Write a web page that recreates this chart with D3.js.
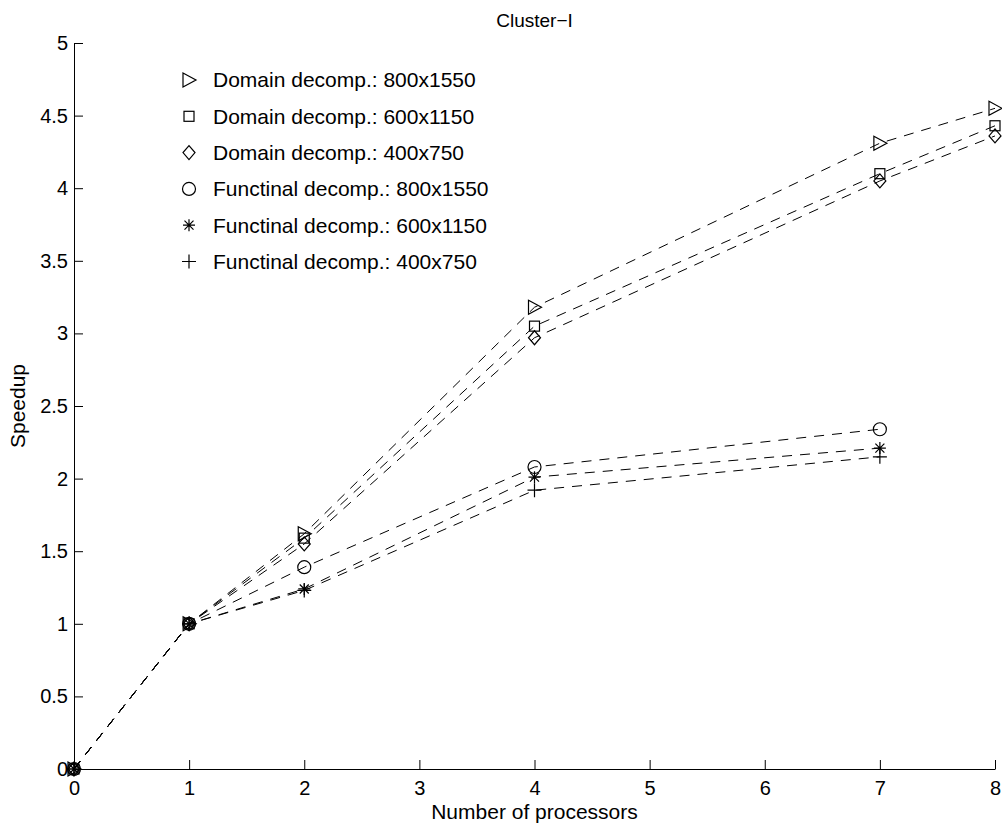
<!DOCTYPE html>
<html>
<head>
<meta charset="utf-8">
<script src="https://cdn.jsdelivr.net/npm/d3@7"></script>
<style>
  body { margin: 0; background: #fff; }
  text { font-family: "Liberation Sans", Arial, sans-serif; fill: #000; }
</style>
</head>
<body>
<script>
// data
var domainProcs = [0, 1, 2, 4, 7, 8];
var funcProcs = [0, 1, 2, 4, 7];
var dom800 = [0, 1, 1.62, 3.18, 4.31, 4.55];
var dom600 = [0, 1, 1.59, 3.05, 4.10, 4.43];
var dom400 = [0, 1, 1.55, 2.97, 4.05, 4.36];
var fun800 = [0, 1, 1.39, 2.08, 2.34];
var fun600 = [0, 1, 1.24, 2.01, 2.21];
var fun400 = [0, 1, 1.23, 1.92, 2.15];
var seriesNames = ["Domain decomp.: 800x1550", "Domain decomp.: 600x1150", "Domain decomp.: 400x750",
                   "Functinal decomp.: 800x1550", "Functinal decomp.: 600x1150", "Functinal decomp.: 400x750"];
var markers = ["triangle", "square", "diamond", "circle", "star", "plus"];
var xTicks = [0, 1, 2, 3, 4, 5, 6, 7, 8];
var yTicks = [0, 0.5, 1, 1.5, 2, 2.5, 3, 3.5, 4, 4.5, 5];

var width = 1002;
var height = 823;
// plot box (don't call it "top", window.top is read only)
var padL = 74, padR = 995, padT = 43, padB = 769;

var series = [
  {x: domainProcs, y: dom800}, {x: domainProcs, y: dom600}, {x: domainProcs, y: dom400},
  {x: funcProcs, y: fun800}, {x: funcProcs, y: fun600}, {x: funcProcs, y: fun400}
];

var svg = d3.select("body").append("svg")
    .attr("width", width)
    .attr("height", height);

var x = d3.scaleLinear().domain([0, 8]).range([padL, padR]);
var y = d3.scaleLinear().domain([0, 5]).range([padB, padT]);

// axes, ticks pointing inward like matlab
var xAxis = svg.append("g").attr("transform", "translate(0," + padB + ")")
    .call(d3.axisBottom(x).tickValues(xTicks).tickSizeInner(-9).tickSizeOuter(0).tickPadding(0).tickFormat(d3.format("d")));
var yAxis = svg.append("g").attr("transform", "translate(" + padL + ",0)")
    .call(d3.axisLeft(y).tickValues(yTicks).tickSizeInner(-9).tickSizeOuter(0).tickPadding(0).tickFormat(d3.format("")));
xAxis.select(".domain").attr("stroke", "#000");
yAxis.select(".domain").attr("stroke", "#000");
xAxis.selectAll("text").attr("y", 12).attr("dy", "0.71em").style("font-size", "20px");
yAxis.selectAll("text").attr("x", -6).style("font-size", "20px");

// labels
svg.append("text").attr("x", (padL + padR) / 2).attr("y", 27)
    .attr("text-anchor", "middle").style("font-size", "19px").text("Cluster\u2212I");
svg.append("text").attr("x", (padL + padR) / 2).attr("y", 819)
    .attr("text-anchor", "middle").style("font-size", "21px").text("Number of processors");
svg.append("text").attr("transform", "translate(25," + ((padT + padB) / 2) + ") rotate(-90)")
    .attr("text-anchor", "middle").style("font-size", "21px").text("Speedup");

// lines - plain straight segments, dashed
var line = d3.line()
    .x(function(d) { return x(d[0]); })
    .y(function(d) { return y(d[1]); });

series.forEach(function(s) {
  var pts = s.x.map(function(v, i) { return [v, s.y[i]]; });
  svg.append("path").attr("d", line(pts))
      .attr("fill", "none").attr("stroke", "#000").attr("stroke-width", 1)
      .attr("stroke-dasharray", "10,8");
});

function drawMarker(g, type, cx, cy) {
  var m = g.append("g").attr("transform", "translate(" + cx + "," + cy + ")");
  var st = {fill: "none", stroke: "#000", "stroke-width": 1.2};
  function apply(sel) { for (var k in st) sel.attr(k, st[k]); return sel; }
  if (type == "triangle") apply(m.append("path").attr("d", "M-6,-7L7,0L-6,7Z"));
  else if (type == "square") apply(m.append("rect").attr("x", -5).attr("y", -5).attr("width", 10).attr("height", 10));
  else if (type == "diamond") apply(m.append("path").attr("d", "M0,-7L6,0L0,7L-6,0Z"));
  else if (type == "circle") apply(m.append("circle").attr("r", 6.5));
  else if (type == "star") apply(m.append("path").attr("d", "M0,-6V6M-6,0H6M-4.5,-4.5L4.5,4.5M-4.5,4.5L4.5,-4.5"));
  else if (type == "plus") apply(m.append("path").attr("d", "M0,-7V7M-7,0H7"));
}

series.forEach(function(s, i) {
  s.x.forEach(function(v, j) { drawMarker(svg, markers[i], x(v), y(s.y[j])); });
});

// legend
var legend = svg.append("g");
seriesNames.forEach(function(name, i) {
  var ly = 80 + i * 36.3;
  drawMarker(legend, markers[i], 189, ly);
  legend.append("text").attr("x", 213).attr("y", ly).attr("dy", "0.35em")
      .style("font-size", "21px").text(name);
});
</script>
</body>
</html>
